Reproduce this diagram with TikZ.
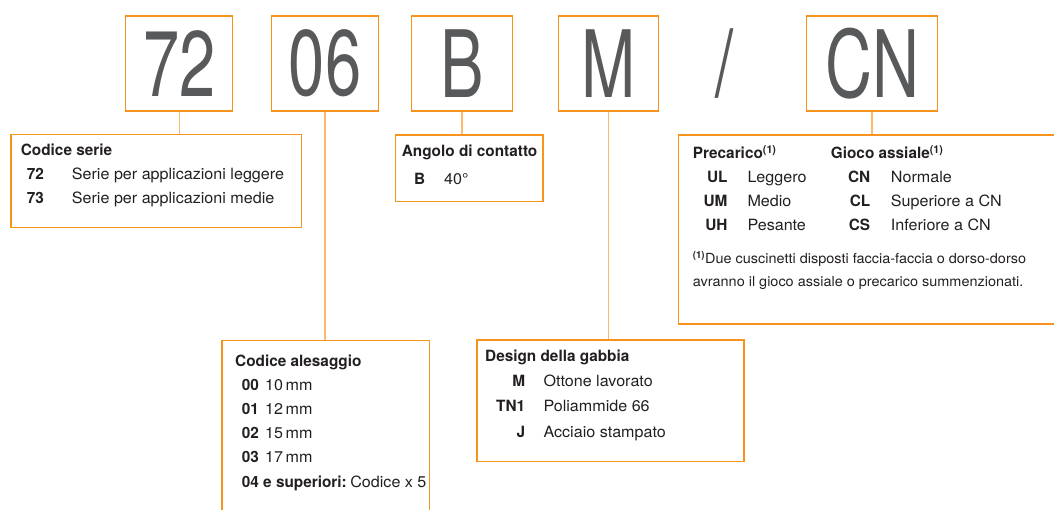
\documentclass[tikz,border=0pt]{standalone}
\usepackage{fontspec}
\usepackage{array}
\usetikzlibrary{positioning}
\setmainfont{TeX Gyre Heros}[FakeStretch=1.04,BoldFeatures={FakeStretch=0.99}]
\newfontfamily\bigcode{TeX Gyre Heros}[FakeStretch=0.7]
\definecolor{line_orange}{HTML}{F7941D}
\definecolor{code_grey}{HTML}{58595B}
\definecolor{text_black}{HTML}{231F20}
\newcommand{\refone}{\textsuperscript{\bfseries(1)}}

\begin{document}
\begin{tikzpicture}[x=1pt,y=-1pt,
    codebox/.style={draw=line_orange,line width=1.3pt,minimum height=95pt,inner sep=0pt,text=code_grey,font=\bigcode\fontsize{93}{93}\selectfont},
    descbox/.style={draw=line_orange,line width=1.3pt,anchor=north west,inner sep=0pt},
    desctext/.style={anchor=base west,inner sep=0pt,text=text_black,font=\fontsize{15.5}{24}\selectfont},
    link/.style={draw=line_orange!65,line width=1.4pt}]
  \useasboundingbox (0,0) rectangle (1054,509);
  \clip (0,0) rectangle (1054,509);
  \node[codebox,minimum width=107pt] (c72) at (179.2,63.5) {72};
  \node[codebox,minimum width=106.6pt] (c06) at (325,63.5) {06};
  \node[codebox,minimum width=100.6pt] (cB) at (462,63.5) {B};
  \node[codebox,minimum width=100pt] (cM) at (608.3,63.5) {M};
  \node[codebox,draw=none] (slash) at (725,63.5) {/};
  \node[codebox,minimum width=131.4pt] (cCN) at (872,63.5) {CN};
  \node[descbox,minimum width=290.4pt,minimum height=92.7pt] (serie) at (10.3,134) {};
  \node[descbox,minimum width=147.3pt,minimum height=66.7pt] (angolo) at (395,134.3) {};
  \node[descbox,minimum width=420pt,minimum height=189pt] (gioco) at (677.7,134.3) {};
  \node[descbox,minimum width=207.4pt,minimum height=220pt] (alesaggio) at (221.3,339.7) {};
  \node[descbox,minimum width=267pt,minimum height=121.4pt] (gabbia) at (476.3,339.3) {};
  \node[desctext] (serietext) at ([shift={(10.4,21)}]serie.north west) {%
    \begin{tabular}[t]{@{\hspace{6pt}}>{\bfseries}w{l}{45pt}@{}l@{}}
      \multicolumn{2}{@{}l@{}}{\bfseries Codice serie}\\
      72 & Serie per applicazioni leggere\\
      73 & Serie per applicazioni medie
    \end{tabular}};
  \node[desctext] (angolotext) at ([shift={(6.7,22.4)}]angolo.north west) {%
    \begin{tabular}[t]{@{\hspace{12.3pt}}>{\bfseries}w{l}{30pt}@{}l@{}}
      \multicolumn{2}{@{}l@{}}{\bfseries Angolo di contatto}\\[3.5pt]
      B & 40°
    \end{tabular}};
  \node[desctext] (precaricotext) at ([shift={(15,24)}]gioco.north west) {%
    \begin{tabular}[t]{@{}>{\bfseries}w{r}{34.6pt}@{\hspace{20pt}}l@{}}
      \multicolumn{2}{@{}l@{}}{\bfseries Precarico\refone}\\
      UL & Leggero\\
      UM & Medio\\
      UH & Pesante
    \end{tabular}};
  \node[desctext] (giocotext) at ([shift={(153,24)}]gioco.north west) {%
    \begin{tabular}[t]{@{}>{\bfseries}w{r}{39.3pt}@{\hspace{20.7pt}}l@{}}
      \multicolumn{2}{@{}l@{}}{\bfseries Gioco assiale\refone}\\
      CN & Normale\\
      CL & Superiore a CN\\
      CS & Inferiore a CN
    \end{tabular}};
  \node[desctext,font=\fontsize{13.9}{23.4}\selectfont] (notetext) at ([shift={(15,129)}]gioco.north west) {%
    \begin{tabular}[t]{@{}l@{}}
      \refone Due cuscinetti disposti faccia-faccia o dorso-dorso\\
      avranno il gioco assiale o precarico summenzionati.
    \end{tabular}};
  \node[desctext] (alesaggiotext) at ([shift={(13.7,26.3)}]alesaggio.north west) {%
    \begin{tabular}[t]{@{\hspace{6.7pt}}>{\bfseries}w{l}{23.3pt}@{}l@{}}
      \multicolumn{2}{@{}l@{}}{\bfseries Codice alesaggio}\\
      00 & 10\,mm\\
      01 & 12\,mm\\
      02 & 15\,mm\\
      03 & 17\,mm\\[1.5pt]
      \multicolumn{2}{@{\hspace{6.7pt}}l@{}}{{\bfseries 04 e superiori:}\hspace{3.5pt}Codice x 5}
    \end{tabular}};
  \node[desctext] (gabbiatext) at ([shift={(8.7,22.4)}]gabbia.north west) {%
    \begin{tabular}[t]{@{}>{\bfseries}w{r}{40pt}@{\hspace{18.3pt}}l@{}}
      \multicolumn{2}{@{}l@{}}{\bfseries Design della gabbia}\\[1pt]
      M & Ottone lavorato\\[1pt]
      TN1 & Poliammide 66\\[2pt]
      J & Acciaio stampato
    \end{tabular}};
  \draw[link] (c72.south) -- (c72.south |- serie.north);
  \draw[link] (c06.south) -- (c06.south |- alesaggio.north);
  \draw[link] (cB.south) -- (cB.south |- angolo.north);
  \draw[link] (cM.south) -- (cM.south |- gabbia.north);
  \draw[link] (cCN.south) -- (cCN.south |- gioco.north);
\end{tikzpicture}
\end{document}
